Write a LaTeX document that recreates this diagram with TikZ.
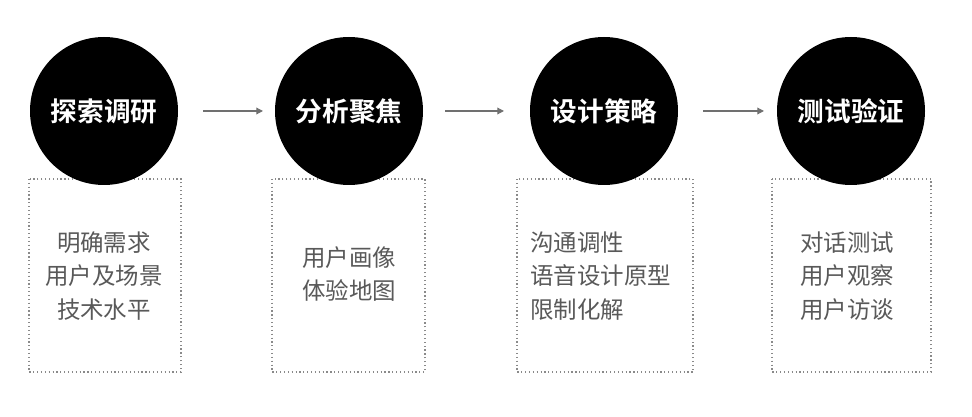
\documentclass[tikz,border=0pt]{standalone}
\usepackage{fontspec}
\newfontfamily\cjk{Noto Sans CJK SC}
\newfontfamily\cjkb{Noto Sans CJK SC Bold}
\usetikzlibrary{arrows.meta}
\definecolor{txtgray}{HTML}{595959}
\definecolor{linegray}{HTML}{707070}
\definecolor{dotgray}{HTML}{8A8A8A}
\tikzset{
  stage/.style={circle, fill=black, minimum size=111pt, inner sep=0pt, text=white, font=\cjkb\fontsize{20}{24}\selectfont},
  infobox/.style={draw=dotgray, dotted, line width=0.9pt, fill=white},
  infotext/.style={text=txtgray, font=\cjk\fontsize{17.6}{25}\selectfont, inner sep=0pt},
  flow/.style={draw=linegray, line width=0.9pt, -{Triangle[length=5pt,width=5pt]}}
}
\begin{document}
\begin{tikzpicture}[x=0.75pt,y=-0.75pt]
\useasboundingbox (0,0) rectangle (972,417);
% boxes
\draw[infobox] (29,179) rectangle (181,372);
\draw[infobox] (272,179) rectangle (425,372);
\draw[infobox] (517,179) rectangle (693,372);
\draw[infobox] (772,179) rectangle (931,372);
% circles
\node[stage] (s1) at (104,111) {探索调研};
\node[stage] (s2) at (349,111) {分析聚焦};
\node[stage] (s3) at (604,111) {设计策略};
\node[stage] (s4) at (851,111) {测试验证};
% arrows
\coordinate (a1s) at (203,111); \coordinate (a1e) at (263,111);
\coordinate (a2s) at (445,111); \coordinate (a2e) at (504,111);
\coordinate (a3s) at (703,111); \coordinate (a3e) at (764,111);
\draw[flow] (a1s) -- (a1e);
\draw[flow] (a2s) -- (a2e);
\draw[flow] (a3s) -- (a3e);
% texts
\node[infotext, align=center] (t1) at (104,276) {明确需求\\用户及场景\\技术水平};
\node[infotext, align=center] (t2) at (349,274) {用户画像\\体验地图};
\node[infotext, align=left, anchor=west] (t3) at (530,276) {沟通调性\\语音设计原型\\限制化解};
\node[infotext, align=left, anchor=west] (t4) at (800,276) {对话测试\\用户观察\\用户访谈};
\end{tikzpicture}
\end{document}
